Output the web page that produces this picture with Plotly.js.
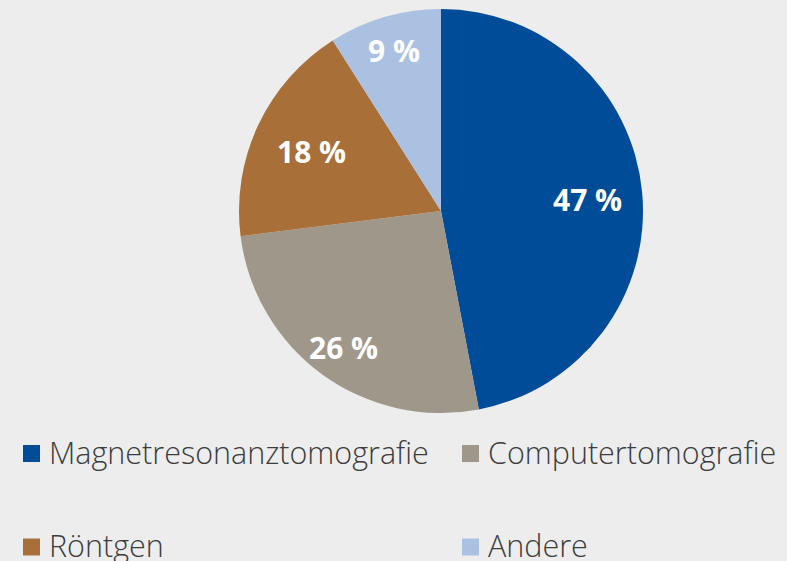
<!DOCTYPE html>
<html>
<head>
<meta charset="utf-8">
<script src="https://cdn.plot.ly/plotly-3.0.1.min.js"></script>
<style>html,body{margin:0;padding:0;background:#ededed;}#chart{width:787px;height:561px;}</style>
</head>
<body>
<div id="chart"></div>
<script>
const categories = ["Magnetresonanztomografie", "Computertomografie", "Röntgen", "Andere"];
const shares = [47, 26, 18, 9];
const sliceColors = ["#004c99", "#a0978b", "#a86f39", "#abc1e2"];
// radial position of each percentage label, as a fraction of the radius
const labelRadius = [0.73, 0.82, 0.71, 0.84];

const W = 787, H = 561;
const pie = {cx: 441, cy: 211, r: 202};
const legendCols = [23, 462];   // left px of square
const legendRows = [453.5, 547]; // center px of square
const sq = 17;

const annotations = [];
const shapes = [];

// percentage labels placed at the slice mid-angles
const total = shares.reduce((a, b) => a + b, 0);
let cum = 0;
shares.forEach((v, i) => {
  const mid = (cum + v / 2) / total * 2 * Math.PI;
  cum += v;
  const d = labelRadius[i] * pie.r;
  const px = pie.cx + d * Math.sin(mid);
  const py = pie.cy - d * Math.cos(mid);
  annotations.push({xref: "paper", yref: "paper", x: px / W, y: 1 - (py + 2) / H,
    xanchor: "center", yanchor: "middle", showarrow: false, text: v + " %",
    font: {family: "Open Sans, sans-serif", size: 30, weight: 700, color: "#ffffff"}});
});

categories.forEach((c, i) => {
  const col = i % 2, row = Math.floor(i / 2);
  const x0 = legendCols[col], yc = legendRows[row];
  shapes.push({type: "rect", xref: "paper", yref: "paper",
    x0: x0 / W, x1: (x0 + sq) / W, y0: 1 - (yc + sq / 2) / H, y1: 1 - (yc - sq / 2) / H,
    fillcolor: sliceColors[i], line: {width: 0}});
  annotations.push({xref: "paper", yref: "paper", x: (x0 + sq + 7) / W, y: 1 - (yc - 2) / H,
    xanchor: "left", yanchor: "middle", showarrow: false, text: c,
    font: {family: "Open Sans, sans-serif", size: 30.5, weight: 300, color: "#3c3c3c"}});
});

const trace = {
  type: "pie",
  values: shares,
  labels: categories,
  sort: false,
  direction: "clockwise",
  rotation: 0,
  marker: {colors: sliceColors, line: {width: 0}},
  textinfo: "none",
  hoverinfo: "label+percent",
  domain: {x: [(pie.cx - pie.r) / W, (pie.cx + pie.r) / W], y: [1 - (pie.cy + pie.r) / H, 1 - (pie.cy - pie.r) / H]},
  showlegend: false
};

Plotly.newPlot("chart", [trace], {
  width: W, height: H,
  margin: {l: 0, r: 0, t: 0, b: 0},
  paper_bgcolor: "#ededed",
  plot_bgcolor: "#ededed",
  showlegend: false,
  annotations: annotations,
  shapes: shapes
}, {displayModeBar: false, staticPlot: true});
</script>
</body>
</html>
